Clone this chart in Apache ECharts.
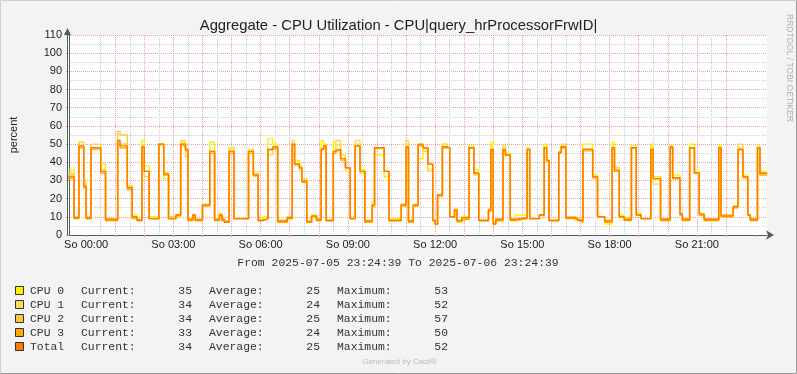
<!DOCTYPE html>
<html>
<head>
<meta charset="utf-8">
<script src="https://cdn.jsdelivr.net/npm/echarts@6/dist/echarts.min.js"></script>
<style>
html,body{margin:0;padding:0;background:#F3F3F3;}
#chart{width:797px;height:374px;}
</style>
</head>
<body>
<div id="chart"></div>
<script>
// Step start times, minutes after 2025-07-06 00:00 (negative = previous day)
const stepMinutes = [-40,-25,-15,-5,0,10,30,40,65,70,
85,95,105,115,120,130,150,160,170,185,
195,205,210,220,225,240,255,265,275,280,
285,295,305,335,345,355,365,375,385,395,
415,425,430,440,445,455,465,475,485,490,
495,510,515,525,535,545,555,565,575,590,
595,615,625,650,660,665,675,685,695,705,
715,720,725,735,745,750,760,765,775,790,
800,810,830,835,840,845,860,865,875,885,
910,915,935,945,950,955,975,980,990,1010,
1015,1025,1045,1055,1070,1085,1090,1100,1110,1125,
1135,1145,1165,1170,1185,1205,1210,1225,1230,1245,
1255,1265,1275,1305,1310,1335,1345,1355,1365,1370,
1385,1390,1405];

const cpu0 = [36,10,51,29,9,48,39,8,52,50,
27,11,8,52,38,10,50,31,9,11,
51,47,9,11,8,17,51,9,12,9,
7,47,9,47,34,8,10,53,50,7,
9,50,41,38,31,7,11,8,52,50,
8,51,49,44,37,10,50,36,7,18,
44,32,9,17,50,8,17,42,47,36,
8,6,22,50,48,10,14,7,10,49,
36,8,14,51,6,8,48,45,8,11,
48,9,11,50,40,8,46,49,10,8,
8,50,33,10,6,51,37,11,9,49,
12,9,50,32,8,49,33,12,8,50,
35,12,9,49,11,16,48,33,11,9,
49,35,35];

const cpu1 = [34,9,51,28,10,50,36,9,52,50,
26,10,8,49,32,9,49,34,9,10,
52,43,8,10,8,16,46,8,10,8,
7,48,9,46,32,8,9,44,48,8,
9,52,38,35,29,8,10,8,47,48,
8,46,52,42,35,9,52,34,8,15,
48,35,8,16,52,8,16,49,46,35,
8,7,21,50,48,10,13,8,9,48,
33,8,13,47,7,8,50,44,8,9,
47,9,10,48,41,8,46,50,9,8,
8,46,31,10,8,48,37,10,8,48,
11,9,46,28,8,48,31,11,8,48,
34,11,8,48,10,15,50,31,11,8,
48,34,34];

const cpu2 = [33,10,49,27,9,47,35,9,57,55,
27,10,8,48,35,9,50,34,10,11,
50,46,8,11,8,16,46,8,11,8,
7,46,9,46,33,8,9,47,48,8,
10,49,39,37,30,7,10,9,47,49,
8,46,47,41,37,9,49,35,8,16,
48,35,8,17,48,8,16,50,48,39,
8,6,22,48,48,10,14,8,9,48,
34,8,14,47,6,9,47,44,9,9,
47,9,11,48,41,8,45,48,10,9,
8,47,32,10,8,48,35,10,9,48,
11,9,47,31,9,48,31,12,9,48,
34,11,9,48,11,16,47,32,11,9,
48,34,34];

const cpu3 = [31,9,48,26,9,48,34,8,50,48,
25,9,8,48,35,9,50,33,9,11,
49,47,8,11,8,16,45,8,11,8,
7,45,9,45,33,8,9,47,48,7,
9,50,39,37,29,7,10,8,47,49,
8,45,47,42,37,9,49,35,7,16,
48,35,8,16,48,7,16,50,48,39,
8,6,22,48,48,10,14,8,9,48,
34,8,13,46,6,8,46,44,8,9,
47,9,11,48,41,8,45,48,9,8,
7,47,32,10,7,47,35,10,8,48,
11,9,47,31,8,48,31,11,8,48,
34,11,8,48,10,15,47,32,11,8,
48,33,33];

const total = [32,9.5,49,27,9.5,48,35,8.5,52,49,
26,10,8,48.5,35,9,50,33.5,9,11,
50,47,8.5,11,8.5,16.5,46,8.5,11,8.5,
7,46,9,46,33,8,9,47,48.5,7.7,
9.5,50,39,37,29.7,7.3,10.5,8.5,47.5,49,
8,46,47,42,37,9,49,35,7.7,16.5,
48,35,8,16.5,48.5,7.7,16.5,49.5,48,39,
8,6,22,48.5,48,10,13.7,7.7,9.5,48,
34,8,13.7,47,6,8.5,47,44,8.5,9.5,
47,9,11,48,41,8,45.5,48.5,9.5,8.5,
7.7,47,32,10,7.7,48,35.7,10,8.5,48,
11,9,47,31,8.5,48.5,31.5,11.5,8.5,48,
34,11.5,8.5,48,10.5,15.6,47,32,11,8.5,
48,34,34];

const seriesNames = ['CPU 0','CPU 1','CPU 2','CPU 3','Total'];
const seriesColors = ['#FFF200','#FFD660','#FFC73B','#FFAB00','#FF7D00'];
const legendCurrent = [35,34,34,33,34];
const legendAverage = [25,24,25,24,25];
const legendMaximum = [53,52,57,50,52];

// x coordinate = minutes since graph start (2025-07-05 23:24:39)
const startOffset = 35.35;        // minutes from graph start to 00:00
const spanMinutes = 1440;
const toX = m => m + startOffset;

const hourTicks = [];
for (let h = 0; h <= 23; h++) hourTicks.push(toX(h * 60));
const halfHourTicks = [];
for (let h = -1; h <= 23; h++) halfHourTicks.push(toX(h * 60 + 30));
const labelHours = [0,3,6,9,12,15,18,21];
const labelTicks = labelHours.map(h => toX(h * 60));

const sans = 'Liberation Sans, Arial, sans-serif';
const mono = 'Liberation Mono, DejaVu Sans Mono, monospace';
const axisColor = '#4F5F5B';
const allSeries = [cpu0, cpu1, cpu2, cpu3, total];

const chart = echarts.init(document.getElementById('chart'), null, {renderer: 'canvas'});

const graphics = [];
// plot background (drawn behind everything)
graphics.push({type:'rect', silent:true, z:-10, shape:{x:67, y:35, width:700, height:200}, style:{fill:'#FDFDFD'}});
// vertical axis line with arrow
graphics.push({type:'line', silent:true, z:50, shape:{x1:67.5, y1:235.5, x2:67.5, y2:32}, style:{stroke:axisColor, lineWidth:1}});
graphics.push({type:'polygon', silent:true, z:50, shape:{points:[[64,35],[71,35],[67.5,28]]}, style:{fill:axisColor, stroke:null}});
// image frame
graphics.push({type:'polyline', silent:true, shape:{points:[[0.5,373],[0.5,0.5],[796,0.5]]}, style:{stroke:'#CFCFCF', fill:null, lineWidth:1}});
graphics.push({type:'polyline', silent:true, shape:{points:[[796.5,0.5],[796.5,373.5],[0.5,373.5]]}, style:{stroke:'#9A9A9A', fill:null, lineWidth:1}});
graphics.push({type:'text', x:789, y:14, rotation:-Math.PI/2, style:{text:'RRDTOOL / TOBI OETIKER', fontSize:8.5, fontFamily:sans, fill:'#B0B0B0', align:'left', verticalAlign:'middle'}});
graphics.push({type:'text', x:398, y:263, style:{text:'From 2025-07-05 23:24:39 To 2025-07-06 23:24:39', fontSize:11.4, fontFamily:mono, fill:'#333', align:'center', verticalAlign:'middle'}});
for (let i = 0; i < seriesNames.length; i++) {
  const y = 291 + 14 * i;
  graphics.push({type:'rect', shape:{x:15.5, y:y-4.5, width:8, height:8}, style:{fill:seriesColors[i], stroke:'#333', lineWidth:1}});
  const t = (x, txt, align) => ({type:'text', x:x, y:y, style:{text:String(txt), fontSize:11.4, fontFamily:mono, fill:'#333', align:align, verticalAlign:'middle'}});
  graphics.push(t(30, seriesNames[i], 'left'));
  graphics.push(t(81, 'Current:', 'left'));
  graphics.push(t(192, legendCurrent[i], 'right'));
  graphics.push(t(209, 'Average:', 'left'));
  graphics.push(t(320, legendAverage[i], 'right'));
  graphics.push(t(337, 'Maximum:', 'left'));
  graphics.push(t(448, legendMaximum[i], 'right'));
}
graphics.push({type:'text', x:437, y:362, style:{text:'Generated by Cacti\u00AE', fontSize:8, fontFamily:sans, fill:'#BBBBBB', align:'right', verticalAlign:'middle'}});

const pad2 = n => (n < 10 ? '0' : '') + n;

chart.setOption({
  animation: false,
  backgroundColor: '#F3F3F3',
  title: {
    text: 'Aggregate - CPU Utilization - CPU|query_hrProcessorFrwID|',
    left: 'center', top: 13,
    textStyle: {fontSize: 14.8, fontWeight: 'normal', color: '#222', fontFamily: sans}
  },
  grid: {left: 67, top: 35, width: 700, height: 200, show: false},
  xAxis: [
    {
      type: 'value', min: 0, max: spanMinutes, position: 'bottom',
      axisLine: {show: true, onZero: false, lineStyle: {color: axisColor, width: 1}, symbol: ['none','arrow'], symbolSize: [7,8], symbolOffset: [0,7]},
      axisTick: {show: true, customValues: hourTicks, length: 2, lineStyle: {color: '#E8A2A2'}},
      axisLabel: {customValues: labelTicks, fontSize: 11, color: '#222', fontFamily: sans, margin: 4,
        formatter: v => 'So ' + pad2(Math.round((v - startOffset) / 60)) + ':00'},
      splitLine: {show: true, showMinLine: false, showMaxLine: false, lineStyle: {color: '#E9A3A3', type: [1,1], width: 1}}
    },
    {
      type: 'value', min: 0, max: spanMinutes, position: 'bottom',
      axisLine: {show: false, onZero: false}, axisLabel: {show: false},
      axisTick: {show: false, customValues: halfHourTicks},
      splitLine: {show: true, showMinLine: false, showMaxLine: false, lineStyle: {color: '#CFCFCF', type: [1,1], width: 1}}
    }
  ],
  yAxis: {
    type: 'value', min: 0, max: 110, interval: 10, position: 'left',
    name: 'percent', nameLocation: 'middle', nameGap: 50,
    nameTextStyle: {fontSize: 11, color: '#222', fontFamily: sans},
    axisLine: {show: true, onZero: false, lineStyle: {color: axisColor, width: 1}},
    axisTick: {show: true, length: 3, lineStyle: {color: '#E8A2A2'}},
    axisLabel: {fontSize: 11, color: '#222', fontFamily: sans, margin: 7},
    splitLine: {show: true, lineStyle: {color: '#E9A3A3', type: [1,1], width: 1}},
    minorTick: {show: false, splitNumber: 2},
    minorSplitLine: {show: true, lineStyle: {color: '#CFCFCF', type: [1,1], width: 1}}
  },
  series: allSeries.map((vals, i) => ({
    name: seriesNames[i],
    type: 'line',
    step: 'end',
    xAxisIndex: 0,
    showSymbol: false,
    symbol: 'none',
    clip: true,
    lineStyle: {color: seriesColors[i], width: 1.4},
    itemStyle: {color: seriesColors[i]},
    data: stepMinutes.map((t, k) => [toX(t), vals[k]])
  })),
  graphic: graphics
});
</script>
</body>
</html>
